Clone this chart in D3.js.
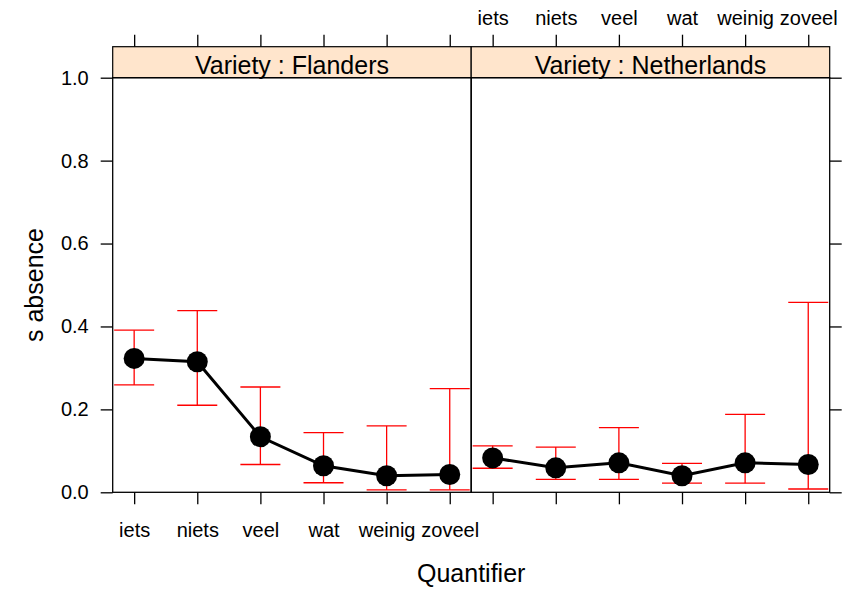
<!DOCTYPE html>
<html>
<head>
<meta charset="utf-8">
<script src="https://cdn.jsdelivr.net/npm/d3@7"></script>
<style>
  body { margin: 0; background: #fff; }
  svg { font-family: "Liberation Sans", Arial, sans-serif; }
</style>
</head>
<body>
<div id="chart-area"></div>
<script>
// data
const quantifiers = ["iets", "niets", "veel", "wat", "weinig", "zoveel"]
const varieties = ["Flanders", "Netherlands"]
const flandersFit = [0.323, 0.315, 0.134, 0.064, 0.040, 0.043]
const flandersLower = [0.259, 0.210, 0.067, 0.023, 0.006, 0.006]
const flandersUpper = [0.391, 0.438, 0.254, 0.144, 0.160, 0.250]
const netherlandsFit = [0.083, 0.059, 0.071, 0.040, 0.071, 0.067]
const netherlandsLower = [0.058, 0.031, 0.031, 0.022, 0.022, 0.008]
const netherlandsUpper = [0.112, 0.109, 0.156, 0.070, 0.188, 0.458]
const yTicks = [0, 0.2, 0.4, 0.6, 0.8, 1.0]

const panels = [
    {variety: varieties[0], fit: flandersFit, lower: flandersLower, upper: flandersUpper},
    {variety: varieties[1], fit: netherlandsFit, lower: netherlandsLower, upper: netherlandsUpper}
]

var cw = 856
var ch = 590
var pLeft = 112.7
var panelW = 358.5
var pTop = 77.7
var pBottom = 492.3
var stripH = 31
var tickLen = 12

var svg = d3.select("#chart-area").append("svg")
    .attr("width", cw)
    .attr("height", ch)

var y = d3.scaleLinear()
    .domain([0, 1])
    .range([pBottom, pTop])

panels.forEach((p, i) => {
    var x0 = pLeft + i * panelW
    var x = d3.scalePoint()
        .domain(quantifiers)
        .range([x0, x0 + panelW])
        .padding(0.34)

    var g = svg.append("g").attr("class", "panel")

    // strip
    g.append("rect")
        .attr("x", x0)
        .attr("y", pTop - stripH)
        .attr("width", panelW)
        .attr("height", stripH)
        .attr("fill", "#ffe5cc")
        .attr("stroke", "#000")
        .attr("stroke-width", 1.2)

    g.append("text")
        .attr("x", x0 + panelW / 2)
        .attr("y", pTop - 4)
        .attr("text-anchor", "middle")
        .attr("font-size", "25px")
        .attr("fill", "#000")
        .text("Variety : " + p.variety)

    // bottom axis (labels only on first panel)
    var bAxis = d3.axisBottom(x).tickSize(tickLen).tickSizeOuter(0).tickPadding(19)
    if (i == 1) bAxis.tickFormat("")
    var bg = g.append("g")
        .attr("transform", "translate(0," + pBottom + ")")
        .call(bAxis)
    bg.select(".domain").remove()

    // top axis (labels only on second panel)
    var tAxis = d3.axisTop(x).tickSize(tickLen).tickSizeOuter(0).tickPadding(10)
    if (i == 0) tAxis.tickFormat("")
    var tg = g.append("g")
        .attr("transform", "translate(0," + (pTop - stripH) + ")")
        .call(tAxis)
    tg.select(".domain").remove()

    // y axis: left on first panel, right on second
    var yAxis = i == 0
        ? d3.axisLeft(y).tickValues(yTicks).tickFormat(d3.format(".1f")).tickSize(tickLen).tickPadding(12)
        : d3.axisRight(y).tickValues(yTicks).tickFormat("").tickSize(tickLen)
    var yg = g.append("g")
        .attr("transform", "translate(" + (i == 0 ? x0 : x0 + panelW) + ",0)")
        .call(yAxis)
    yg.select(".domain").remove()

    g.selectAll(".tick text")
        .attr("font-size", "20px")
        .attr("font-family", "Liberation Sans, Arial, sans-serif")
        .attr("fill", "#000")
    g.selectAll(".tick line").attr("stroke", "#000").attr("stroke-width", 1.3)

    // panel border
    g.append("rect")
        .attr("x", x0)
        .attr("y", pTop)
        .attr("width", panelW)
        .attr("height", pBottom - pTop)
        .attr("fill", "none")
        .attr("stroke", "#000")
        .attr("stroke-width", 1.3)

    var rows = quantifiers.map((q, j) => ({q: q, fit: p.fit[j], lo: p.lower[j], hi: p.upper[j]}))

    // error bars
    var eb = g.selectAll(".err")
        .data(rows)
        .enter()
        .append("g")
        .attr("class", "err")
        .attr("stroke", "#ff0000")
        .attr("stroke-width", 1.3)

    eb.append("line")
        .attr("x1", d => x(d.q)).attr("x2", d => x(d.q))
        .attr("y1", d => y(d.lo)).attr("y2", d => y(d.hi))
    eb.append("line")
        .attr("x1", d => x(d.q) - 20).attr("x2", d => x(d.q) + 20)
        .attr("y1", d => y(d.lo)).attr("y2", d => y(d.lo))
    eb.append("line")
        .attr("x1", d => x(d.q) - 20).attr("x2", d => x(d.q) + 20)
        .attr("y1", d => y(d.hi)).attr("y2", d => y(d.hi))

    // fitted line + points
    var line = d3.line()
        .x(d => x(d.q))
        .y(d => y(d.fit))

    g.append("path")
        .datum(rows)
        .attr("d", line)
        .attr("fill", "none")
        .attr("stroke", "#000")
        .attr("stroke-width", 3)

    g.selectAll(".pt")
        .data(rows)
        .enter()
        .append("circle")
        .attr("class", "pt")
        .attr("cx", d => x(d.q))
        .attr("cy", d => y(d.fit))
        .attr("r", 10.5)
        .attr("fill", "#000")
})

// axis titles
svg.append("text")
    .attr("x", pLeft + panelW)
    .attr("y", 582)
    .attr("text-anchor", "middle")
    .attr("font-size", "25px")
    .text("Quantifier")

svg.append("text")
    .attr("transform", "translate(43," + ((pTop + pBottom) / 2) + ") rotate(-90)")
    .attr("text-anchor", "middle")
    .attr("font-size", "25px")
    .text("s absence")
</script>
</body>
</html>
